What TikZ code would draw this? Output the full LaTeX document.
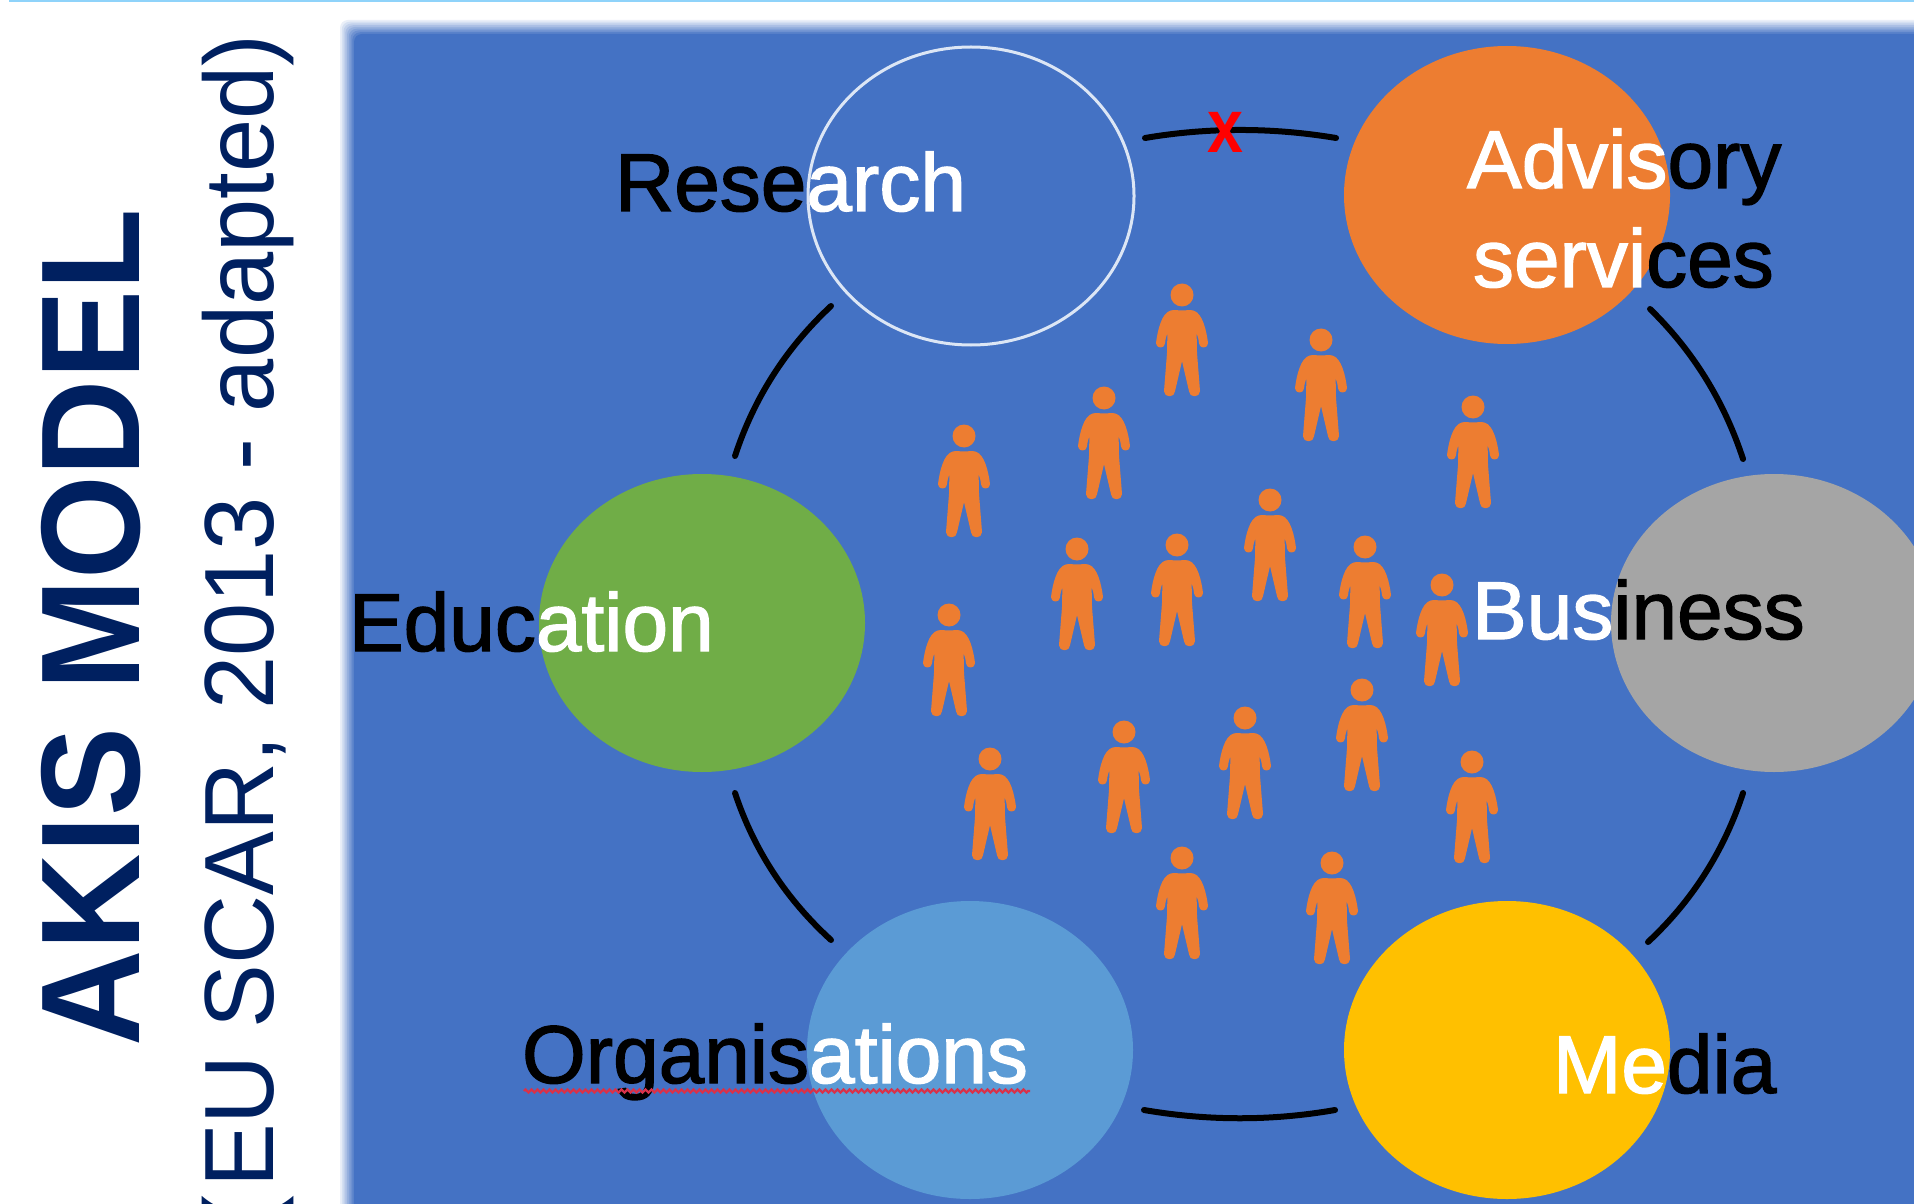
\documentclass[tikz,border=0pt]{standalone}
\usepackage{fontspec}
\usepackage{graphicx}
\setmainfont{Liberation Sans}
\newfontfamily\lblfont[FakeBold=1.6]{Liberation Sans}
\usetikzlibrary{shapes.geometric,decorations.pathmorphing}
\definecolor{navy}{HTML}{002060}
\definecolor{panel}{HTML}{4472C4}
\definecolor{cOrange}{HTML}{ED7D31}
\definecolor{cGrey}{HTML}{A5A5A5}
\definecolor{cGreen}{HTML}{70AD47}
\definecolor{cSky}{HTML}{5B9BD5}
\definecolor{cYellow}{HTML}{FFC000}
\definecolor{topline}{HTML}{8FD3FA}
\definecolor{ringline}{HTML}{DCE6F5}
\definecolor{squig}{HTML}{D8324A}
\tikzset{
  x=0.5pt,y=-0.5pt,
  disc/.style={ellipse,inner sep=0pt,minimum width=163pt,minimum height=149pt},
  lbl/.style={inner sep=0pt,outer sep=0pt,anchor=base west,font=\lblfont\fontsize{41}{41}\selectfont},
  ringarc/.style={draw=black,line width=3pt,line cap=round},
  person/.pic={
    \fill[cOrange] (0,0) circle[radius=11.5];
    \fill[cOrange,draw=cOrange,line width=1.5pt,line join=round]
      (0,17) .. controls (4,17) and (8,16) .. (11,17)
      .. controls (19,19) and (23,36) .. (24.5,48)
      .. controls (24.5,52) and (18.5,52) .. (18.5,48)
      .. controls (18,42) and (16,37) .. (13,32)
      -- (13.5,58) -- (16.5,96)
      .. controls (16.5,101) and (8.5,101) .. (8.5,96)
      -- (1.5,66) .. controls (1.2,64) and (-1.2,64) .. (-1.5,66)
      -- (-8.5,96)
      .. controls (-8.5,101) and (-16.5,101) .. (-16.5,96)
      -- (-13.5,58) -- (-13,32)
      .. controls (-16,37) and (-18,42) .. (-18.5,48)
      .. controls (-18.5,52) and (-24.5,52) .. (-24.5,48)
      .. controls (-23,36) and (-19,19) .. (-11,17)
      .. controls (-8,16) and (-4,17) .. (0,17) -- cycle;
  }
}
\begin{document}
\begin{tikzpicture}
\useasboundingbox (0,0) rectangle (1914,1203);
\clip (0,0) rectangle (1914,1203);
\fill[white] (0,0) rectangle (1914,1203);
\fill[topline] (9,0) rectangle (1914,2);
% soft-edged panel
\foreach \i in {0,...,8}{
  \pgfmathsetmacro{\pct}{100*(\i+1)/9}
  \pgfmathsetmacro{\ex}{340+1.75*\i}
  \pgfmathsetmacro{\ey}{20+1.75*\i}
  \fill[panel!\pct!white,rounded corners=4pt] (\ex,\ey) rectangle (2000,1300);
}
% side titles
\node[inner sep=0pt,anchor=base west,rotate=90,text=navy,font=\fontsize{66.7}{66.7}\selectfont\bfseries] (title) at (139,1047) {\scalebox{1}[1.055]{AKIS MODEL}};
\node[inner sep=0pt,anchor=base west,rotate=90,text=navy,font=\fontsize{47.8}{47.8}\selectfont] (subtitle) at (273,1228) {\scalebox{1}[1.03]{(\kern4pt EU SCAR, 2013 - adapted)}};
% discs
\node[disc,draw=ringline,line width=1.5pt] (cResearch) at (971,196) {};
\node[disc,fill=cOrange] (cAdvisory) at (1507,195) {};
\node[disc,fill=cGrey] (cBusiness) at (1774,623) {};
\node[disc,fill=cGreen] (cEducation) at (702,623) {};
\node[disc,fill=cSky] (cOrganisations) at (970,1050) {};
\node[disc,fill=cYellow] (cMedia) at (1507,1050) {};
% ring arcs
\coordinate (t1) at (1145,138); \coordinate (t2) at (1336,138);
\coordinate (r1) at (1650,309); \coordinate (r2) at (1743,459);
\coordinate (s1) at (1743,793); \coordinate (s2) at (1648,942);
\coordinate (b1) at (1335,1110); \coordinate (b2) at (1144,1110);
\coordinate (l1) at (831,940); \coordinate (l2) at (735,793);
\coordinate (u1) at (735,456); \coordinate (u2) at (831,306);
\draw[ringarc] (t1) .. controls (1208,127.3) and (1272,127.3) .. (t2);
\draw[ringarc] (r1) .. controls (1693,351) and (1724,401) .. (r2);
\draw[ringarc] (s1) .. controls (1724,851) and (1692,901) .. (s2);
\draw[ringarc] (b1) .. controls (1272,1121) and (1208,1121) .. (b2);
\draw[ringarc] (l1) .. controls (786,899) and (754,850) .. (l2);
\draw[ringarc] (u1) .. controls (754,398) and (786,348) .. (u2);
% red cross
\node[inner sep=0pt,text=red,font=\fontsize{38}{38}\selectfont\bfseries,xscale=0.85] (cross) at (1225,132) {x};
% people
\foreach \hx/\hy in {1182/295,1321/340,1473/407,1104/398,964/436,1270/500,1077/549,1177/545,1365/547,1442/585,949/615,1362/690,1245/718,1124/732,990/759,1472/762,1182/858,1332/863}{
  \pic at (\hx,\hy) {person};
}
% labels
\node[lbl] (tResearch) at (615,211) {\color{black}Rese\color{white}arch};
\node[lbl] (tAdvisory) at (1467,188) {\color{white}Advis\color{black}ory};
\node[lbl] (tServices) at (1473,287) {\color{white}servi\color{black}ces};
\node[lbl] (tEducation) at (349,651) {\color{black}Educ\color{white}ation};
\node[lbl] (tBusiness) at (1472,639) {\color{white}Bus\color{black}iness};
\node[lbl] (tMedia) at (1553,1093) {\color{white}Me\color{black}dia};
\node[lbl] (tOrganisations) at (522,1083) {\color{black}Organis\color{white}ations};
\coordinate (sq1) at (524,1091); \coordinate (sq2) at (1030,1091);
\draw[squig,line width=1.1pt,decorate,decoration={zigzag,segment length=3pt,amplitude=0.8pt}] (sq1) -- (sq2);
\end{tikzpicture}
\end{document}
